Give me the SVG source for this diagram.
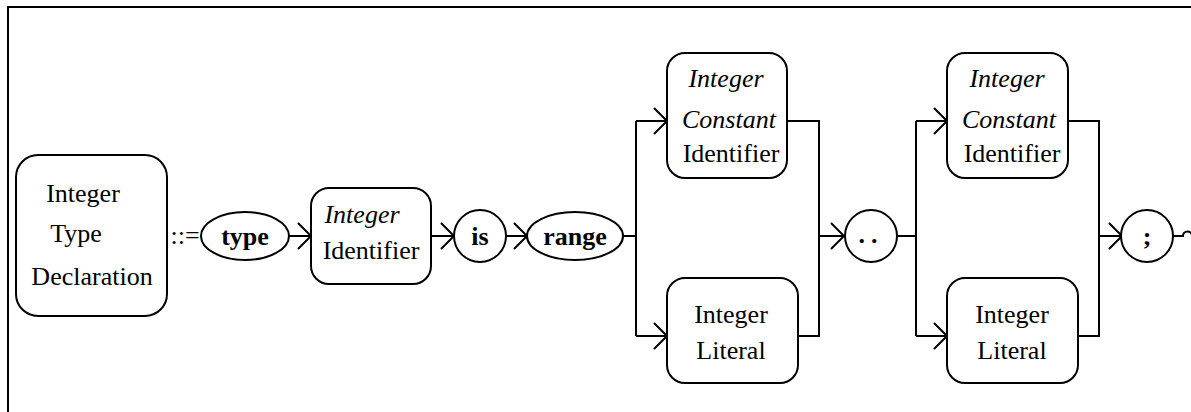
<svg xmlns="http://www.w3.org/2000/svg" width="1191" height="412" viewBox="0 0 1191 412">
<style>
.frame{fill:none;stroke:#000;stroke-width:2}
.box{fill:#fff;stroke:#000;stroke-width:2}
.ln{fill:none;stroke:#000;stroke-width:2}
.t{font-family:'Liberation Serif','DejaVu Serif',serif;font-size:26px;fill:#000;text-anchor:middle}
.i{font-style:italic}
.b{font-weight:bold}
</style>
<defs>
<marker id="arr" markerUnits="userSpaceOnUse" markerWidth="16" markerHeight="28" refX="14" refY="14" orient="auto" viewBox="0 0 16 28">
<path d="M1,1 L14,14 L1,27" fill="none" stroke="#000" stroke-width="2"/>
</marker>
</defs>
<rect width="1191" height="412" fill="#fff"/>
<path class="frame" d="M8,412 L8,7 L1191,7"/>

<g id="connectors">
<path class="ln" d="M289,236 L311,236" marker-end="url(#arr)"/>
<path class="ln" d="M431,236 L454,236" marker-end="url(#arr)"/>
<path class="ln" d="M506,236 L527,236" marker-end="url(#arr)"/>
<path class="ln" d="M623,236 L636,236"/>
<path class="ln" d="M636,121 L636,336"/>
<path class="ln" d="M636,121 L667,121" marker-end="url(#arr)"/>
<path class="ln" d="M636,336 L667,336" marker-end="url(#arr)"/>
<path class="ln" d="M787,121 L819,121 L819,336 L798,336"/>
<path class="ln" d="M819,236 L844,236" marker-end="url(#arr)"/>
<path class="ln" d="M897,236 L916,236"/>
<path class="ln" d="M916,121 L916,336"/>
<path class="ln" d="M916,121 L947,121" marker-end="url(#arr)"/>
<path class="ln" d="M916,336 L947,336" marker-end="url(#arr)"/>
<path class="ln" d="M1068,121 L1099,121 L1099,336 L1078,336"/>
<path class="ln" d="M1099,236 L1122,236" marker-end="url(#arr)"/>
<path class="ln" d="M1173,236 L1183,236 A4.5,4.5 0 0 1 1192,236"/>
</g>

<g id="decl">
<rect class="box" x="16" y="155" width="151" height="161" rx="22"/>
<text class="t" x="83" y="202">Integer</text>
<text class="t" x="76" y="242">Type</text>
<text class="t" x="92" y="285">Declaration</text>
</g>
<g id="defines">
<text class="t" x="185" y="244">::=</text>
</g>
<g id="type">
<ellipse class="box" cx="245" cy="236" rx="44" ry="24"/>
<text class="t b" x="245" y="245">type</text>
</g>
<g id="integer-identifier">
<rect class="box" x="311" y="188" width="120" height="96" rx="18"/>
<text class="t i" x="362" y="223">Integer</text>
<text class="t" x="371" y="259">Identifier</text>
</g>
<g id="is">
<circle class="box" cx="480" cy="236" r="26"/>
<text class="t b" x="480" y="245">is</text>
</g>
<g id="range">
<ellipse class="box" cx="575" cy="236" rx="48" ry="24"/>
<text class="t b" x="575" y="245">range</text>
</g>
<g id="const-id-1">
<rect class="box" x="667" y="53" width="120" height="125" rx="18"/>
<text class="t i" x="726" y="87">Integer</text>
<text class="t i" x="729" y="128">Constant</text>
<text class="t" x="731" y="162">Identifier</text>
</g>
<g id="literal-1">
<rect class="box" x="667" y="278" width="131" height="105" rx="18"/>
<text class="t" x="731" y="323">Integer</text>
<text class="t" x="731" y="359">Literal</text>
</g>
<g id="dotdot">
<circle class="box" cx="871" cy="236" r="26"/>
<text class="t b" x="871" y="243" style="letter-spacing:6px">..</text>
</g>
<g id="const-id-2">
<rect class="box" x="947" y="53" width="121" height="125" rx="18"/>
<text class="t i" x="1007" y="87">Integer</text>
<text class="t i" x="1009" y="128">Constant</text>
<text class="t" x="1012" y="162">Identifier</text>
</g>
<g id="literal-2">
<rect class="box" x="947" y="278" width="131" height="105" rx="18"/>
<text class="t" x="1012" y="323">Integer</text>
<text class="t" x="1012" y="359">Literal</text>
</g>
<g id="semicolon">
<circle class="box" cx="1147" cy="236" r="26"/>
<text class="t b" x="1147" y="245">;</text>
</g>
</svg>
